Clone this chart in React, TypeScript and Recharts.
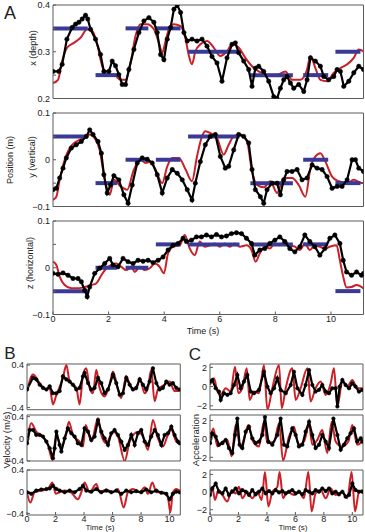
import { LineChart, Line, XAxis, YAxis, ReferenceLine } from 'recharts';

type Series = [number, number][];

// Panel A: end-point position, measured (black) vs model (red)
const depthMeasured: Series = [
  [0, 0.258], [0.21, 0.258], [0.33, 0.273], [0.5, 0.327], [0.69, 0.352], [0.81, 0.359], [0.93, 0.363],
  [1.05, 0.37], [1.17, 0.378], [1.25, 0.37], [1.35, 0.348], [1.53, 0.327], [1.71, 0.294], [1.83, 0.258],
  [2.01, 0.258], [2.13, 0.28], [2.25, 0.27], [2.37, 0.251], [2.49, 0.23], [2.61, 0.23], [2.73, 0.262],
  [2.91, 0.305], [3.09, 0.341], [3.27, 0.366], [3.45, 0.373], [3.63, 0.363], [3.75, 0.341], [3.87, 0.294],
  [3.99, 0.283], [4.11, 0.327], [4.23, 0.352], [4.35, 0.391], [4.47, 0.4], [4.59, 0.384], [4.71, 0.341],
  [4.83, 0.323], [5.0, 0.327], [5.18, 0.323], [5.36, 0.327], [5.54, 0.312], [5.72, 0.29], [5.9, 0.276],
  [6.08, 0.237], [6.26, 0.287], [6.44, 0.316], [6.56, 0.319], [6.68, 0.298], [6.86, 0.28], [7.04, 0.262],
  [7.16, 0.226], [7.28, 0.265], [7.4, 0.269], [7.58, 0.258], [7.76, 0.237], [7.94, 0.204], [8.06, 0.2],
  [8.18, 0.222], [8.3, 0.24], [8.42, 0.247], [8.54, 0.233], [8.66, 0.222], [8.84, 0.23], [9.02, 0.215],
  [9.14, 0.24], [9.26, 0.287], [9.44, 0.28], [9.62, 0.269], [9.74, 0.247], [9.92, 0.24], [10.1, 0.247],
  [10.22, 0.262], [10.34, 0.258], [10.46, 0.226], [10.64, 0.237], [10.82, 0.255], [11.0, 0.269], [11.17, 0.262],
];
const depthModel: Series = [
  [0, 0.233], [0.18, 0.24], [0.33, 0.28], [0.51, 0.309], [0.75, 0.319], [0.99, 0.33], [1.23, 0.348],
  [1.41, 0.345], [1.59, 0.316], [1.77, 0.269], [1.95, 0.251], [2.19, 0.251], [2.43, 0.24], [2.61, 0.24],
  [2.79, 0.276], [2.97, 0.334], [3.15, 0.359], [3.39, 0.359], [3.63, 0.348], [3.81, 0.319], [3.93, 0.298],
  [4.05, 0.323], [4.17, 0.348], [4.35, 0.359], [4.59, 0.355], [4.77, 0.327], [4.89, 0.291], [5.0, 0.273],
  [5.12, 0.301], [5.3, 0.316], [5.54, 0.323], [5.78, 0.309], [6.02, 0.291], [6.26, 0.301], [6.44, 0.316],
  [6.68, 0.309], [6.92, 0.287], [7.16, 0.269], [7.4, 0.258], [7.7, 0.251], [8.06, 0.251], [8.36, 0.258],
  [8.6, 0.24], [8.9, 0.24], [9.14, 0.262], [9.26, 0.291], [9.44, 0.265], [9.62, 0.24], [9.86, 0.237],
  [10.1, 0.255], [10.34, 0.265], [10.58, 0.273], [10.82, 0.287], [11.0, 0.305], [11.17, 0.301],
];
const verticalMeasured: Series = [
  [0, -0.064], [0.12, -0.061], [0.24, -0.039], [0.36, -0.018], [0.48, 0.004], [0.66, 0.025], [0.84, 0.032],
  [1.02, 0.039], [1.2, 0.05], [1.32, 0.064], [1.44, 0.054], [1.62, 0.039], [1.74, 0.014], [1.83, -0.032],
  [1.95, -0.071], [2.07, -0.054], [2.19, -0.034], [2.37, -0.043], [2.55, -0.075], [2.7, -0.093], [2.85, -0.054],
  [3.03, -0.007], [3.21, 0.004], [3.39, 0.001], [3.57, -0.007], [3.75, -0.032], [3.93, -0.071], [4.11, -0.039],
  [4.29, -0.021], [4.47, -0.029], [4.65, -0.043], [4.83, -0.064], [5.0, -0.086], [5.12, -0.05], [5.3, -0.004],
  [5.48, 0.032], [5.66, 0.05], [5.84, 0.054], [6.02, 0.007], [6.2, -0.018], [6.32, -0.014], [6.5, 0.021],
  [6.68, 0.054], [6.86, 0.05], [7.04, 0.036], [7.16, -0.021], [7.28, -0.064], [7.46, -0.079], [7.58, -0.093],
  [7.7, -0.064], [7.88, -0.05], [8.06, -0.05], [8.18, -0.075], [8.3, -0.043], [8.42, -0.025], [8.6, -0.025],
  [8.78, -0.021], [8.96, -0.043], [9.14, -0.039], [9.32, -0.011], [9.5, -0.018], [9.68, -0.021], [9.86, -0.036],
  [10.04, -0.061], [10.22, -0.057], [10.4, -0.057], [10.58, -0.043], [10.76, 0], [10.88, 0], [11.0, -0.018],
  [11.17, -0.025],
];
const verticalModel: Series = [
  [0, -0.086], [0.12, -0.079], [0.24, -0.043], [0.42, 0], [0.6, 0.025], [0.84, 0.039], [1.08, 0.046],
  [1.32, 0.054], [1.5, 0.046], [1.68, 0.021], [1.8, -0.021], [1.92, -0.057], [2.04, -0.075], [2.19, -0.043],
  [2.43, -0.057], [2.67, -0.064], [2.91, -0.021], [3.15, 0], [3.33, -0.007], [3.51, -0.004], [3.69, -0.021],
  [3.93, -0.05], [4.11, -0.014], [4.29, 0.004], [4.53, 0.004], [4.77, -0.021], [5.0, -0.046], [5.18, 0.007],
  [5.36, 0.05], [5.48, 0.061], [5.66, 0.057], [5.9, 0.046], [6.14, 0.011], [6.32, 0.032], [6.5, 0.05],
  [6.74, 0.054], [6.98, 0.039], [7.16, -0.025], [7.34, -0.054], [7.58, -0.059], [7.82, -0.046], [8.06, -0.071],
  [8.3, -0.039], [8.6, -0.039], [8.84, -0.054], [9.08, -0.079], [9.26, -0.018], [9.44, 0.007], [9.62, 0.014],
  [9.8, -0.004], [10.04, -0.036], [10.28, -0.046], [10.58, -0.05], [10.82, -0.043], [11.06, -0.049], [11.17, -0.05],
];
const horizontalMeasured: Series = [
  [0, -0.012], [0.18, -0.014], [0.36, -0.011], [0.54, -0.016], [0.72, -0.023], [0.9, -0.023], [1.02, -0.03],
  [1.14, -0.048], [1.23, -0.062], [1.32, -0.041], [1.5, -0.012], [1.68, -0.001], [1.86, 0.009], [2.04, 0.02],
  [2.16, 0.006], [2.34, 0.002], [2.52, 0.02], [2.7, 0.013], [2.88, 0.009], [3.06, 0.016], [3.24, 0.014],
  [3.42, 0.016], [3.6, 0.011], [3.78, 0.016], [3.96, 0.023], [4.14, 0.038], [4.32, 0.048], [4.5, 0.052],
  [4.68, 0.063], [4.8, 0.056], [4.98, 0.059], [5.16, 0.066], [5.34, 0.066], [5.52, 0.07], [5.7, 0.066],
  [5.88, 0.071], [6.06, 0.066], [6.24, 0.068], [6.42, 0.073], [6.6, 0.075], [6.78, 0.073], [6.96, 0.063],
  [7.14, 0.052], [7.26, 0.027], [7.44, 0.038], [7.62, 0.041], [7.8, 0.052], [7.98, 0.059], [8.16, 0.066],
  [8.34, 0.056], [8.52, 0.041], [8.7, 0.034], [8.88, 0.045], [9.06, 0.07], [9.24, 0.056], [9.42, 0.045],
  [9.6, 0.027], [9.78, 0.041], [9.96, 0.063], [10.14, 0.07], [10.32, 0.052], [10.44, 0.016], [10.56, -0.009],
  [10.74, -0.016], [10.92, -0.009], [11.1, -0.016], [11.17, -0.012],
];
const horizontalModel: Series = [
  [0, 0.013], [0.12, 0.006], [0.24, -0.019], [0.42, -0.037], [0.66, -0.044], [0.9, -0.044], [1.14, -0.041],
  [1.38, -0.037], [1.56, -0.033], [1.74, -0.016], [1.92, -0.001], [2.1, 0.006], [2.28, 0.009], [2.46, 0.002],
  [2.64, -0.005], [2.82, 0.002], [2.94, -0.009], [3.12, 0.002], [3.3, -0.005], [3.48, -0.001], [3.66, 0.009],
  [3.84, 0.002], [3.99, -0.012], [4.14, 0.031], [4.32, 0.045], [4.56, 0.048], [4.74, 0.07], [4.92, 0.041],
  [5.1, 0.027], [5.28, 0.056], [5.46, 0.045], [5.64, 0.048], [5.82, 0.052], [6.0, 0.045], [6.18, 0.052],
  [6.36, 0.045], [6.54, 0.052], [6.72, 0.045], [6.96, 0.048], [7.14, 0.038], [7.29, 0.013], [7.44, 0.031],
  [7.62, 0.045], [7.8, 0.041], [7.98, 0.052], [8.16, 0.048], [8.34, 0.056], [8.52, 0.048], [8.7, 0.045],
  [8.88, 0.038], [9.06, 0.052], [9.24, 0.038], [9.42, 0.048], [9.6, 0.045], [9.78, 0.041], [9.96, 0.045],
  [10.2, 0.048], [10.32, 0.016], [10.44, -0.019], [10.56, -0.042], [10.74, -0.041], [10.92, -0.037], [11.17, -0.044],
];

// target plateaus shared by all three coordinates
const targetStart = [0, 1.53, 2.61, 3.7, 4.86, 7.1, 9.0, 10.16];
const targetEnd = [1.25, 2.3, 3.43, 4.59, 6.71, 8.63, 9.9, 11.06];
const depthTarget = [0.35, 0.25, 0.35, 0.35, 0.3, 0.25, 0.25, 0.3];
const verticalTarget = [0.05, -0.05, 0, 0, 0.05, -0.05, 0, -0.05];
const horizontalTarget = [-0.05, 0, 0, 0.05, 0.05, 0.05, 0.05, -0.05];

// Panel B: velocity (m/s)
const vxMeasured: Series = [
  [0, -0.06], [0.42, 0.16], [0.65, 0.13], [0.89, 0.03], [1.12, -0.03], [1.36, -0.06], [1.59, 0], [1.82, -0.13],
  [2.06, -0.13], [2.29, -0.09], [2.52, 0.19], [2.76, 0.13], [2.99, 0.09], [3.22, 0.03], [3.46, -0.06], [3.69, -0.03],
  [3.93, 0.19], [4.04, 0.25], [4.28, 0.06], [4.51, -0.06], [4.74, -0.03], [4.98, 0.16], [5.21, 0.06], [5.44, -0.13],
  [5.68, -0.06], [6.03, 0.22], [6.26, 0.06], [6.5, -0.16], [6.73, -0.13], [6.96, 0.16], [7.2, 0.03], [7.43, -0.06],
  [7.66, -0.03], [7.9, 0.13], [8.13, 0.03], [8.36, -0.06], [8.6, 0.09], [8.83, 0.34], [9.07, 0.06], [9.3, -0.06],
  [9.53, -0.03], [9.77, 0.09], [10.0, 0.03], [10.23, 0.06], [10.47, -0.03], [10.7, -0.06],
];
const vxModel: Series = [
  [0, -0.09], [0.42, 0.22], [0.89, 0.06], [1.36, -0.06], [1.59, -0.03], [1.82, -0.34], [2.06, -0.16], [2.52, 0.16],
  [2.76, 0.4], [2.99, 0.09], [3.46, -0.03], [3.69, -0.34], [3.93, 0.22], [4.16, 0.34], [4.39, -0.03], [4.63, -0.13],
  [4.86, 0.31], [5.09, -0.03], [5.44, -0.19], [5.79, 0.03], [6.03, 0.28], [6.38, -0.06], [6.61, -0.22], [6.96, 0.19],
  [7.31, -0.03], [7.66, -0.06], [7.9, 0.16], [8.25, -0.13], [8.48, -0.03], [8.71, 0.31], [8.95, -0.28], [9.18, -0.06],
  [9.65, 0.03], [10.0, 0.09], [10.35, -0.09], [10.7, -0.09],
];
const vyMeasured: Series = [
  [0, -0.08], [0.19, 0.16], [0.42, 0.16], [0.65, 0.07], [0.89, 0.07], [1.12, 0.04], [1.36, -0.05], [1.59, -0.17],
  [1.82, -0.35], [1.94, -0.17], [2.06, 0.13], [2.29, -0.11], [2.41, -0.23], [2.64, 0.01], [2.87, 0.19], [3.11, 0.1],
  [3.34, 0.04], [3.57, -0.08], [3.81, -0.11], [4.04, 0.19], [4.28, 0.13], [4.51, -0.02], [4.74, 0.04], [4.98, 0.34],
  [5.21, 0.13], [5.44, 0.01], [5.68, -0.11], [5.91, 0.1], [6.14, 0.16], [6.38, 0.07], [6.61, -0.05], [6.85, -0.2],
  [7.08, -0.11], [7.31, 0.07], [7.55, -0.11], [7.78, 0.1], [8.01, 0.16], [8.25, -0.05], [8.48, -0.11], [8.71, 0.04],
  [8.95, 0.16], [9.18, 0.07], [9.42, -0.11], [9.65, 0.07], [9.88, 0.1], [10.12, 0.22], [10.35, 0.07], [10.58, -0.05],
  [10.7, -0.08],
];
const vyModel: Series = [
  [0, -0.11], [0.3, 0.28], [0.65, 0.13], [1.12, 0.04], [1.47, -0.11], [1.78, -0.38], [2.06, 0.07], [2.41, -0.17],
  [2.76, 0.13], [2.94, 0.31], [3.22, 0.07], [3.69, -0.05], [3.93, -0.14], [4.11, 0.25], [4.51, -0.05], [4.98, 0.37],
  [5.21, 0.07], [5.56, -0.08], [6.03, 0.13], [6.38, 0.04], [6.85, -0.4], [7.2, -0.05], [7.78, 0.13], [8.13, 0.04],
  [8.48, -0.2], [8.83, 0.34], [9.18, 0.01], [9.53, -0.14], [9.88, 0.07], [10.12, 0.16], [10.47, -0.05], [10.7, -0.08],
];
const vzMeasured: Series = [
  [0, -0.01], [0.3, -0.04], [0.65, 0.02], [1.0, 0.04], [1.36, 0.05], [1.59, 0.06], [1.82, 0.11], [2.06, 0.05],
  [2.29, 0.02], [2.64, -0.01], [2.99, 0.02], [3.34, -0.01], [3.69, 0.05], [3.93, 0.11], [4.16, 0.02], [4.51, 0],
  [4.86, 0.05], [5.21, -0.01], [5.56, 0.02], [5.91, -0.01], [6.26, 0.02], [6.61, -0.04], [6.96, 0.02], [7.31, -0.01],
  [7.66, 0.01], [8.01, -0.01], [8.36, 0.04], [8.71, -0.01], [9.07, 0.02], [9.42, -0.02], [9.77, -0.04], [10.0, -0.14],
  [10.23, -0.04], [10.47, 0], [10.7, -0.01],
];
const vzModel: Series = [
  [0, -0.01], [0.23, -0.2], [0.54, -0.01], [1.0, 0.02], [1.47, 0.05], [1.78, 0.17], [2.01, -0.04], [2.29, -0.01],
  [2.64, 0.02], [3.11, -0.02], [3.57, -0.14], [3.81, -0.01], [4.04, 0.17], [4.39, -0.01], [4.86, 0.14], [5.09, -0.01],
  [5.56, 0.04], [6.03, -0.01], [6.38, 0.05], [6.78, -0.29], [7.08, -0.01], [7.43, 0.05], [7.9, -0.01], [8.25, 0.08],
  [8.48, -0.04], [8.79, 0.17], [9.07, -0.01], [9.53, -0.01], [9.88, -0.1], [10.05, -0.38], [10.23, -0.01], [10.47, 0.05],
  [10.7, 0.02],
];

// Panel C: acceleration
const axMeasured: Series = [
  [0, 0.52], [0.16, 0.69], [0.4, -0.17], [0.63, -0.52], [0.75, -1.38], [0.98, -0.69], [1.22, -0.86], [1.45, -0.69],
  [1.69, 0.17], [1.92, 1.21], [2.15, -0.17], [2.39, 0.52], [2.62, 1.21], [2.86, -0.52], [3.09, -0.69], [3.44, -0.34],
  [3.79, 1.55], [4.03, 0], [4.26, -0.69], [4.5, -0.17], [4.73, 0.86], [4.96, -0.34], [5.32, -0.69], [5.67, 0.17],
  [5.9, 1.55], [6.14, -0.17], [6.49, -0.86], [6.72, 0.17], [6.96, 1.72], [7.19, 0.17], [7.42, -0.52], [7.66, -0.34],
  [7.89, 0.17], [8.13, -0.52], [8.36, -0.69], [8.59, -0.17], [8.83, -0.17], [8.95, -2.07], [9.11, 0], [9.3, 0.69],
  [9.53, 0.17], [9.77, -0.17], [10.0, 0.34], [10.23, 0], [10.47, -0.52], [10.7, -0.34],
];
const axModel: Series = [
  [0, 0.17], [0.28, 0.86], [0.52, -0.52], [0.75, -0.86], [1.1, -0.17], [1.45, -0.52], [1.76, 2.07], [1.99, -0.69],
  [2.27, -0.17], [2.58, 1.9], [2.79, -1.38], [3.09, -0.52], [3.44, -0.69], [3.79, 2.24], [4.03, -2.41], [4.38, -0.17],
  [4.85, 2.24], [5.04, -2.24], [5.32, -0.17], [5.78, 1.9], [6.02, -1.38], [6.37, -0.17], [6.84, 1.9], [7.07, -1.55],
  [7.42, -0.17], [7.78, 0.52], [8.13, -0.86], [8.48, 0.34], [8.71, 1.9], [8.95, -2.07], [9.3, 0.52], [9.65, 0],
  [10.0, 0.69], [10.35, -0.17], [10.7, -0.17],
];
const ayMeasured: Series = [
  [0, -0.46], [0.16, 0.61], [0.4, 0.25], [0.63, -0.64], [0.87, -0.46], [1.1, -0.11], [1.33, -1.0], [1.57, -1.54],
  [1.76, 0.43], [1.92, 2.21], [2.08, -0.64], [2.27, -1.0], [2.51, 0.79], [2.74, 1.32], [2.97, 0.07], [3.21, -0.46],
  [3.44, -0.29], [3.68, 0.43], [3.86, 2.39], [4.1, -0.29], [4.38, -0.64], [4.73, 0.43], [4.96, 2.21], [5.2, -0.64],
  [5.43, -0.82], [5.78, 1.14], [6.02, 0.43], [6.25, -0.82], [6.49, -0.64], [6.72, 0.79], [6.96, 1.86], [7.19, 0.43],
  [7.42, -1.0], [7.66, -0.64], [7.89, 0.43], [8.13, -0.29], [8.36, -1.0], [8.67, 2.21], [8.95, 0.43], [9.18, -1.18],
  [9.41, -0.64], [9.65, 0.07], [9.88, 0.61], [10.12, 1.14], [10.35, -0.29], [10.59, 0.07], [10.7, -0.29],
];
const ayModel: Series = [
  [0, -0.11], [0.23, 1.14], [0.52, -0.82], [0.87, -0.29], [1.22, -0.11], [1.52, -1.89], [1.8, 1.5], [2.15, -1.0],
  [2.46, 0.43], [2.69, 1.5], [3.02, -0.29], [3.44, -0.82], [3.79, 1.86], [4.03, -0.46], [4.5, -0.29], [4.85, 1.68],
  [5.13, -2.36], [5.55, 0.25], [5.9, 1.32], [6.21, -0.64], [6.6, -0.29], [6.96, 1.5], [7.19, -0.64], [7.54, -0.11],
  [7.89, 0.96], [8.24, -1.54], [8.55, 1.86], [8.83, -0.29], [9.3, -0.82], [9.72, -0.29], [10.0, 1.5], [10.35, -0.64],
  [10.7, -0.29],
];
const azMeasured: Series = [
  [0, -0.33], [0.16, 0.41], [0.4, 0.96], [0.63, 0.04], [0.87, -0.15], [1.1, 0.41], [1.33, -0.33], [1.57, 0.04],
  [1.8, 0.41], [2.04, -0.15], [2.27, 0.22], [2.51, 0.04], [2.74, -0.33], [2.97, 0.22], [3.21, -0.26], [3.44, 0.04],
  [3.68, 0.41], [3.91, -0.15], [4.15, 0.11], [4.38, -0.15], [4.61, 0.22], [4.85, -0.04], [5.08, 0.11], [5.32, -0.15],
  [5.55, 0.04], [5.78, 0.22], [6.02, -0.15], [6.25, 0.04], [6.49, -0.26], [6.72, 0.22], [6.96, 0.04], [7.19, -0.15],
  [7.42, 0.22], [7.66, 0.04], [7.89, 0.41], [8.13, 0.11], [8.36, 0.41], [8.59, -0.15], [8.83, 0.04], [9.06, -0.26],
  [9.3, 0.04], [9.53, -0.52], [9.77, -0.33], [10.0, 0.96], [10.23, 0.22], [10.47, 0.04], [10.7, 0.04],
];
const azModel: Series = [
  [0, -0.15], [0.16, 0.59], [0.35, -0.89], [0.59, 0.22], [0.87, -0.33], [1.22, -1.07], [1.52, 0.22], [1.8, -0.15],
  [2.04, 0.59], [2.27, -0.7], [2.62, 0.04], [2.97, -0.7], [3.33, 0.04], [3.63, -0.89], [3.86, 2.26], [4.1, -1.63],
  [4.38, 0.04], [4.73, 0.59], [4.89, 2.26], [5.13, -0.7], [5.43, 0.04], [5.9, -0.33], [6.25, 0.04], [6.6, -0.7],
  [6.91, 2.26], [7.14, -2.19], [7.42, -0.15], [7.78, 0.22], [8.13, -0.7], [8.48, 0.41], [8.83, -0.33], [9.3, 0.04],
  [9.65, -0.7], [9.95, 2.26], [10.19, -2.19], [10.47, 0.04], [10.7, 0.22],
];

const timeTicks = [0, 2, 4, 6, 8, 10];

const FONT = '"Liberation Sans", Arial, Helvetica, sans-serif';
const RED = '#cc1f26';
const BLUE = '#3a3a96';
const FRAME = '#5a5a5a';

const fmt = (v: number) => (v === 0 ? '0' : v < 0 ? '\u2212' + String(-v) : String(v));
const rows = (s: Series) => s.map(([t, v]) => ({ t, v }));

interface PanelProps {
  x: number;
  y: number;
  w: number;
  h: number;
  xMax: number;
  yDomain: [number, number];
  yTicks: number[];
  yLabels: number[];
  showTime: boolean;
  measured: Series;
  model: Series;
  target?: number[];
  dotR: number;
  fontSize: number;
}

function Panel(p: PanelProps) {
  const padL = 44;
  const padT = 4;
  const padR = 4;
  const padB = p.showTime ? 18 : 4;
  const tickText = { fontSize: p.fontSize, fill: '#222', fontFamily: FONT };
  return (
    <div style={{ position: 'absolute', left: p.x - padL, top: p.y - padT }}>
      <LineChart
        width={padL + p.w + padR}
        height={padT + p.h + padB}
        margin={{ top: padT - 1, right: padR - 1, bottom: 0, left: 0 }}
      >
        <XAxis
          xAxisId="b"
          type="number"
          dataKey="t"
          domain={[0, p.xMax]}
          ticks={timeTicks}
          interval={0}
          allowDataOverflow
          height={padB}
          stroke={FRAME}
          tickSize={-3}
          tickMargin={4}
          tick={p.showTime ? tickText : false}
        />
        <XAxis
          xAxisId="top"
          orientation="top"
          type="number"
          dataKey="t"
          domain={[0, p.xMax]}
          ticks={timeTicks}
          interval={0}
          allowDataOverflow
          height={1}
          stroke={FRAME}
          tickSize={-3}
          tick={false}
        />
        <YAxis
          yAxisId="l"
          type="number"
          domain={p.yDomain}
          ticks={p.yTicks}
          interval={0}
          allowDataOverflow
          width={padL}
          stroke={FRAME}
          tickSize={-3}
          tickMargin={6}
          tick={tickText}
          tickFormatter={(v: number) => (p.yLabels.includes(v) ? fmt(v) : '')}
        />
        <YAxis
          yAxisId="r"
          orientation="right"
          type="number"
          domain={p.yDomain}
          ticks={p.yTicks}
          interval={0}
          allowDataOverflow
          width={1}
          stroke={FRAME}
          tickSize={-3}
          tick={false}
        />
        <Line
          xAxisId="b"
          yAxisId="l"
          data={rows(p.model)}
          dataKey="v"
          type="monotone"
          stroke={RED}
          strokeWidth={2}
          dot={false}
          activeDot={false}
          isAnimationActive={false}
        />
        {p.target?.map((v, i) => (
          <ReferenceLine
            key={i}
            xAxisId="b"
            yAxisId="l"
            segment={[{ x: targetStart[i], y: v }, { x: targetEnd[i], y: v }]}
            stroke={BLUE}
            strokeWidth={4}
            ifOverflow="visible"
          />
        ))}
        <Line
          xAxisId="b"
          yAxisId="l"
          data={rows(p.measured)}
          dataKey="v"
          type="linear"
          stroke="#000"
          strokeWidth={2.2}
          dot={{ r: p.dotR, fill: '#000', stroke: '#000', strokeWidth: 0.5 }}
          activeDot={false}
          isAnimationActive={false}
        />
      </LineChart>
    </div>
  );
}

function Label({ x, y, text, size = 9, rotate = false }: { x: number; y: number; text: string; size?: number; rotate?: boolean }) {
  return (
    <div
      style={{
        position: 'absolute',
        left: x,
        top: y,
        transform: `translate(-50%, -50%)${rotate ? ' rotate(-90deg)' : ''}`,
        whiteSpace: 'nowrap',
        fontFamily: FONT,
        fontSize: size,
        color: '#222',
        lineHeight: 1,
      }}
    >
      {text}
    </div>
  );
}

export default function App() {
  const aX = 52.5;
  const aW = 310.5;
  const aMax = 11.17;
  const bcMax = 10.75;
  return (
    <div style={{ position: 'absolute', left: 0, top: 0, width: 365, height: 532, background: '#fff', overflow: 'hidden' }}>
      <Panel x={aX} y={5} w={aW} h={93.5} xMax={aMax} yDomain={[0.2, 0.4]} yTicks={[0.2, 0.25, 0.3, 0.35, 0.4]}
        yLabels={[0.2, 0.3, 0.4]} showTime={false} measured={depthMeasured} model={depthModel} target={depthTarget}
        dotR={2.2} fontSize={9} />
      <Panel x={aX} y={113} w={aW} h={93.5} xMax={aMax} yDomain={[-0.1, 0.1]} yTicks={[-0.1, -0.05, 0, 0.05, 0.1]}
        yLabels={[-0.1, 0, 0.1]} showTime={false} measured={verticalMeasured} model={verticalModel} target={verticalTarget}
        dotR={2.2} fontSize={9} />
      <Panel x={aX} y={220.5} w={aW} h={93.5} xMax={aMax} yDomain={[-0.1, 0.1]} yTicks={[-0.1, -0.05, 0, 0.05, 0.1]}
        yLabels={[-0.1, 0, 0.1]} showTime measured={horizontalMeasured} model={horizontalModel} target={horizontalTarget}
        dotR={2.2} fontSize={9} />

      <Panel x={26.7} y={364.3} w={153.3} h={45.7} xMax={bcMax} yDomain={[-0.44, 0.42]} yTicks={[-0.4, 0, 0.4]}
        yLabels={[-0.4, 0, 0.4]} showTime={false} measured={vxMeasured} model={vxModel} dotR={1.8} fontSize={9} />
      <Panel x={26.7} y={415} w={153.3} h={46} xMax={bcMax} yDomain={[-0.4, 0.43]} yTicks={[-0.4, 0, 0.4]}
        yLabels={[-0.4, 0, 0.4]} showTime={false} measured={vyMeasured} model={vyModel} dotR={1.8} fontSize={9} />
      <Panel x={26.7} y={470} w={153.3} h={45} xMax={bcMax} yDomain={[-0.43, 0.4]} yTicks={[-0.4, 0, 0.4]}
        yLabels={[-0.4, 0, 0.4]} showTime measured={vzMeasured} model={vzModel} dotR={1.8} fontSize={9} />

      <Panel x={210} y={364.3} w={153} h={45.7} xMax={bcMax} yDomain={[-2.4, 2.35]} yTicks={[-2, 0, 2]}
        yLabels={[-2, 0, 2]} showTime={false} measured={axMeasured} model={axModel} dotR={1.8} fontSize={9} />
      <Panel x={210} y={415} w={153} h={46} xMax={bcMax} yDomain={[-2.4, 2.6]} yTicks={[-2, 0, 2]}
        yLabels={[-2, 0, 2]} showTime={false} measured={ayMeasured} model={ayModel} dotR={1.8} fontSize={9} />
      <Panel x={210} y={470} w={153} h={45} xMax={bcMax} yDomain={[-2.6, 2.5]} yTicks={[-2, 0, 2]}
        yLabels={[-2, 0, 2]} showTime measured={azMeasured} model={azModel} dotR={1.8} fontSize={9} />

      <Label x={10} y={13} text="A" size={18} />
      <Label x={10} y={353} text="B" size={17} />
      <Label x={195} y={354} text="C" size={17} />

      <Label x={32.5} y={48} text="x (depth)" rotate />
      <Label x={31.5} y={157} text="y (vertical)" rotate />
      <Label x={30} y={263} text="z (horizontal)" rotate />
      <Label x={9.5} y={160} text="Position (m)" rotate />
      <Label x={203} y={331} text="Time (s)" />

      <Label x={7} y={440} text="Velocity (m/s)" rotate size={9.5} />
      <Label x={196} y={440} text="Acceleration" rotate size={9.5} />
      <Label x={100} y={528} text="Time (s)" size={8} />
      <Label x={293} y={528} text="Time (s)" size={8} />
    </div>
  );
}
